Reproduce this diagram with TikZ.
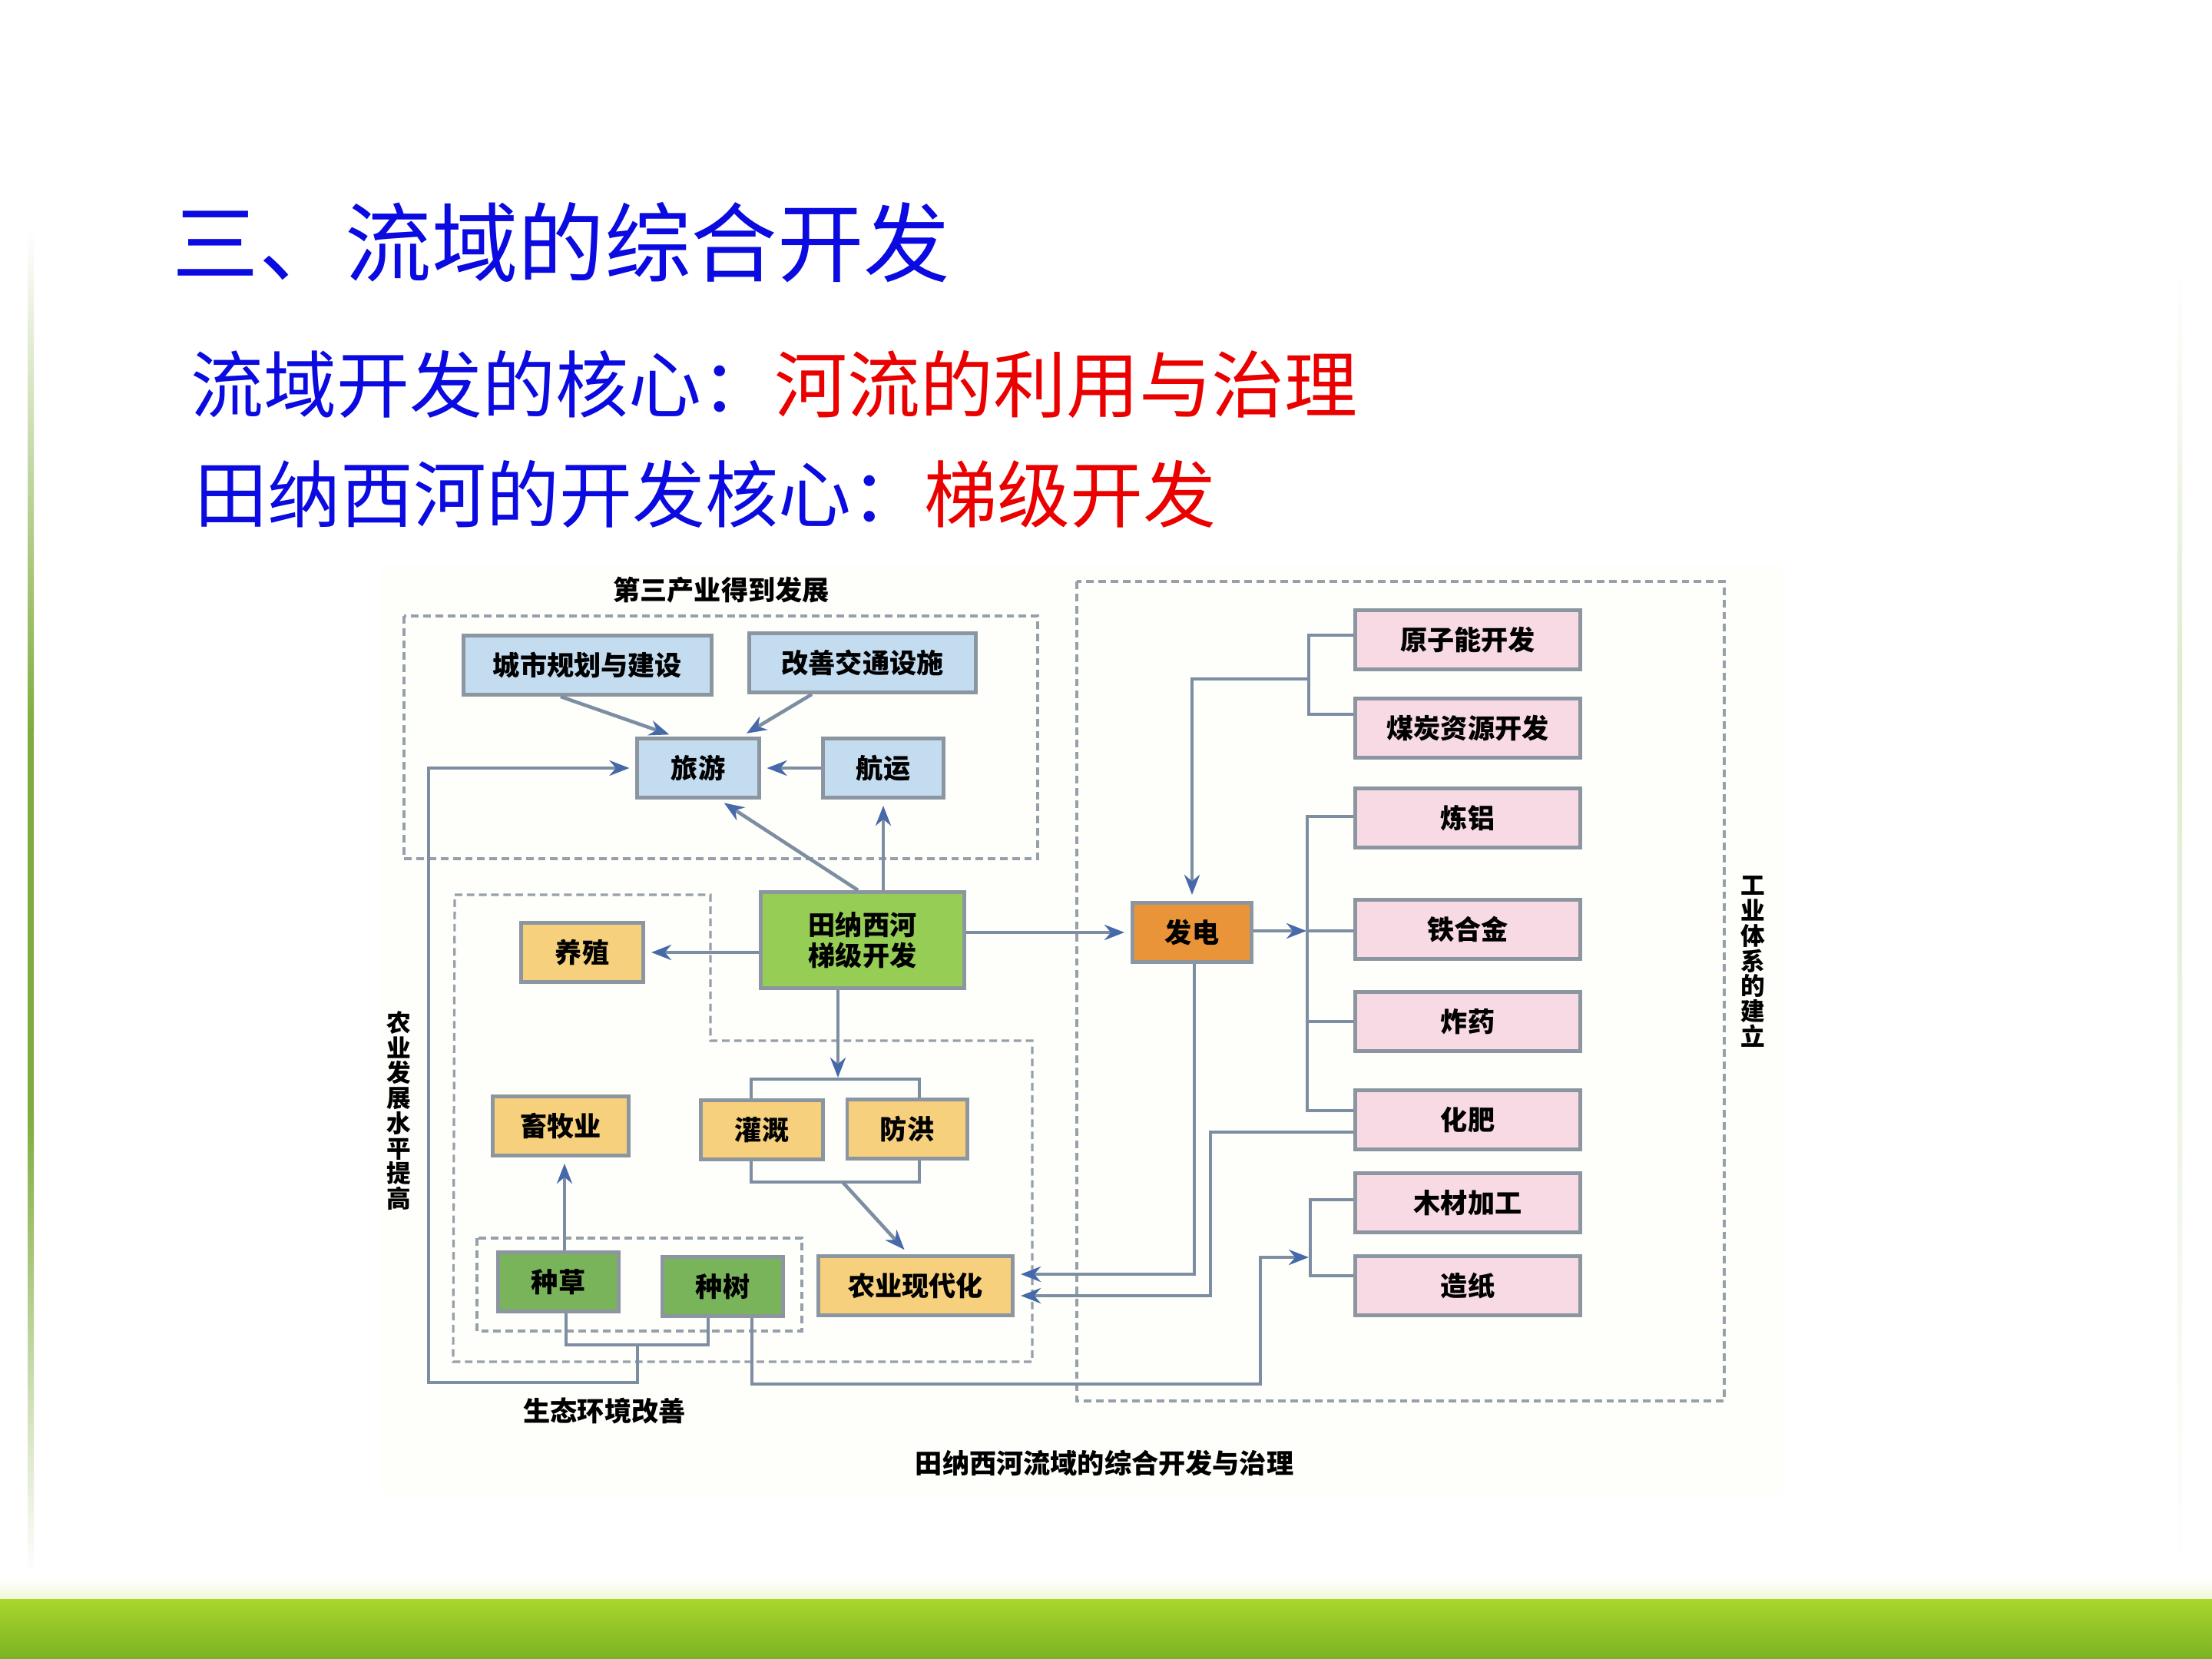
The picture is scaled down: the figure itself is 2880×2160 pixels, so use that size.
\documentclass[tikz,border=0pt]{standalone}
\usepackage{fontspec}
\setmainfont{Noto Sans CJK SC}
\usetikzlibrary{calc,arrows.meta}
\definecolor{slideblue}{RGB}{10,10,225}
\definecolor{slidered}{RGB}{235,0,0}
\definecolor{linecol}{RGB}{125,142,162}
\definecolor{arrowblue}{RGB}{70,105,170}
\definecolor{boxline}{RGB}{140,150,160}
\definecolor{dashcol}{RGB}{150,160,170}
\definecolor{blueboxfill}{RGB}{195,220,240}
\definecolor{tvagreen}{RGB}{150,205,85}
\definecolor{plantgreen}{RGB}{122,180,90}
\definecolor{farmorange}{RGB}{247,208,125}
\definecolor{powerorange}{RGB}{234,148,58}
\definecolor{pinkfill}{RGB}{247,218,228}
\definecolor{bandtop}{RGB}{170,215,45}
\definecolor{bandbot}{RGB}{122,178,35}
\definecolor{edgegreen}{RGB}{128,172,62}
\definecolor{diagbg}{RGB}{254,254,251}

\tikzset{
	box/.style={draw=boxline, line width=1.4pt, inner sep=0pt, minimum height=0.77cm, font=\bfseries\fontsize{10}{11}\selectfont},
	bluebox/.style={box, fill=blueboxfill},
	farmbox/.style={box, fill=farmorange},
	plantbox/.style={box, fill=plantgreen, minimum width=1.57cm},
	pinkbox/.style={box, fill=pinkfill, minimum width=2.93cm},
	link/.style={draw=linecol, line width=1.3pt},
	arr/.style={link, ->, shorten >=0.08cm},
	zone/.style={draw=dashcol, line width=0.9pt, dash pattern=on 2.8pt off 1.7pt},
	note/.style={font=\bfseries\fontsize{10}{12}\selectfont, inner sep=0pt},
	vnote/.style={font=\bfseries\fontsize{9}{9.3}\selectfont, align=center, inner sep=0pt},
}

\begin{document}
\begin{tikzpicture}[x=0.01cm, y=-0.01cm, >={Stealth[length=0.26cm,width=0.2cm,color=arrowblue]}]
	% Slide background
	\fill[white] (0,0) rectangle (2880,2160);
	\useasboundingbox (0,0) rectangle (2880,2160);
	\shade[top color=white, bottom color=bandtop!20] (0,2055) rectangle (2880,2082);
	\shade[top color=bandtop, bottom color=bandbot] (0,2082) rectangle (2880,2160);
	\shade[top color=white, bottom color=edgegreen] (36,300) rectangle (44,950);
	\fill[edgegreen] (36,950) rectangle (44,1450);
	\shade[top color=edgegreen, bottom color=white] (36,1450) rectangle (44,2050);
	\shade[top color=white, bottom color=edgegreen!25] (2835,350) rectangle (2841,900);
	\shade[top color=edgegreen!25, bottom color=white] (2835,900) rectangle (2841,2050);
	\fill[diagbg] (495,735) rectangle (2320,1945);
	
	% Slide text
	\node[anchor=west, inner sep=0pt, text=slideblue, font=\fontsize{32}{36}\selectfont] (title) at (224,316) {三、流域的综合开发};
	\node[anchor=west, inner sep=0pt, font=\fontsize{27}{30}\selectfont] (core) at (248,500) {\textcolor{slideblue}{流域开发的核心：}\textcolor{slidered}{河流的利用与治理}};
	\node[anchor=west, inner sep=0pt, font=\fontsize{27}{30}\selectfont] (cascade) at (253,643) {\textcolor{slideblue}{田纳西河的开发核心：}\textcolor{slidered}{梯级开发}};
	
	% Tertiary industry
	\draw[zone] (526,802) rectangle (1351,1118);
	\node[note] (tertiary) at (939,768) {第三产业得到发展};
	\node[bluebox, minimum width=3.23cm] (city) at (765,866) {城市规划与建设};
	\node[bluebox, minimum width=2.94cm] (traffic) at (1123,863) {改善交通设施};
	\node[bluebox, minimum width=1.58cm] (tour) at (909,1000) {旅游};
	\node[bluebox, minimum width=1.57cm] (ship) at (1150,1000) {航运};
	
	% Agriculture
	\draw[zone] (592,1165) -- (925,1165) -- (925,1355) -- (1344,1355) -- (1344,1773) -- (590,1773) -- cycle;
	\draw[zone] (621,1612) rectangle (1044,1733);
	\node[box, fill=tvagreen, minimum width=2.64cm, minimum height=1.25cm, align=center, font=\bfseries\fontsize{10}{11.5}\selectfont] (tva) at (1123,1224) {田纳西河\\梯级开发};
	\node[farmbox, minimum width=1.59cm] (breed) at (758,1240) {养殖};
	\node[farmbox, minimum width=1.77cm] (herd) at (730,1466) {畜牧业};
	\node[farmbox, minimum width=1.58cm] (irrig) at (992,1471) {灌溉};
	\node[farmbox, minimum width=1.56cm] (flood) at (1181,1470) {防洪};
	\node[plantbox] (grass) at (727,1669) {种草};
	\node[plantbox] (tree) at (941,1675) {种树};
	\node[farmbox, minimum width=2.53cm] (modern) at (1192,1674) {农业现代化};
	\node[vnote] (agri) at (519,1446) {农\\业\\发\\展\\水\\平\\提\\高};
	\node[note] (ecolabel) at (787,1837) {生态环境改善};
	
	% Industry
	\draw[zone] (1402,757) rectangle (2245,1824);
	\node[box, fill=powerorange, minimum width=1.55cm] (power) at (1552,1214) {发电};
	\node[pinkbox] (atom) at (1911,833) {原子能开发};
	\node[pinkbox] (coal) at (1911,948) {煤炭资源开发};
	\node[pinkbox] (alum) at (1911,1065) {炼铝};
	\node[pinkbox] (alloy) at (1911,1210) {铁合金};
	\node[pinkbox] (explo) at (1911,1330) {炸药};
	\node[pinkbox] (fert) at (1911,1458) {化肥};
	\node[pinkbox] (wood) at (1911,1566) {木材加工};
	\node[pinkbox] (paper) at (1911,1674) {造纸};
	\node[vnote] (industry) at (2282,1252) {工\\业\\体\\系\\的\\建\\立};
	
	\node[note] (caption) at (1438,1905) {田纳西河流域的综合开发与治理};
	
	% Links round the tourism box
	\draw[arr] ([xshift=-0.35cm]city.south) -- ([xshift=-0.3cm]tour.north);
	\draw[arr] ([xshift=-0.66cm]traffic.south) -- ([xshift=0.56cm]tour.north);
	\draw[arr] (ship.west) -- (tour.east);
	\draw[arr] ([xshift=-0.06cm]tva.north) -- ([xshift=0.27cm]tour.south);
	\draw[arr] (tva.north -| ship.south) -- (ship.south);
	
	% Links out of the cascade
	\draw[arr] (tva.west |- breed.east) -- (breed.east);
	\draw[arr] (tva.east |- power.west) -- (power.west);
	\coordinate (split) at (1091,1405);
	\draw[arr, shorten >=0.02cm] (tva.south -| split) -- (split);
	\draw[link] ([xshift=-0.14cm]irrig.north) |- (split) -| ([xshift=0.16cm]flood.north);
	\coordinate (join) at (1097,1539);
	\draw[link] ([xshift=-0.14cm]irrig.south) |- (join) -| ([xshift=0.16cm]flood.south);
	\draw[arr] (join) -- ([xshift=-0.09cm]modern.north);
	\draw[arr] ([xshift=0.08cm]grass.north) -- ([xshift=0.08cm]grass.north |- herd.south);
	
	% Ecology loop
	\coordinate (eco) at (830,1751);
	\coordinate (ecoLeft) at (558,1800);
	\coordinate (ecoRight) at (1641,1802);
	\coordinate (paperIn) at (1641,1637);
	\coordinate (woodBus) at (1706,1637);
	\draw[link] ([xshift=0.1cm]grass.south) |- (eco) -| ([xshift=-0.19cm]tree.south);
	\draw[arr] (eco) -- (eco |- ecoLeft) -- (ecoLeft) |- (tour.west);
	\draw[arr, shorten >=0.02cm] ([xshift=0.38cm]tree.south) |- (ecoRight) -- (paperIn) -- (woodBus);
	
	% Power and industrial links
	\coordinate (atomBus) at (1704,884);
	\coordinate (bus) at (1702,1212);
	\coordinate (powerDown) at (1555,1659);
	\coordinate (fertDown) at (1576,1687);
	\draw[link] ([yshift=0.06cm]atom.west) -| (atomBus) |- ([yshift=0.18cm]coal.west);
	\draw[arr] (atomBus) -| (power.north);
	\draw[arr, shorten >=0.01cm] (power.east |- bus) -- (bus);
	\draw[link] ([yshift=0.02cm]alum.west) -| (bus) |- ([yshift=0.12cm]fert.west);
	\draw[link] (bus) -- (bus -| alloy.west);
	\draw[link] (explo.west) -- (explo.west -| bus);
	\draw[arr] (power.south -| powerDown) -- (powerDown) -- (powerDown -| modern.east);
	\draw[arr] ([yshift=-0.16cm]fert.west) -| (fertDown) -- (fertDown -| modern.east);
	\draw[link] ([yshift=0.04cm]wood.west) -| (woodBus) |- ([yshift=0.13cm]paper.west);
\end{tikzpicture}
\end{document}
